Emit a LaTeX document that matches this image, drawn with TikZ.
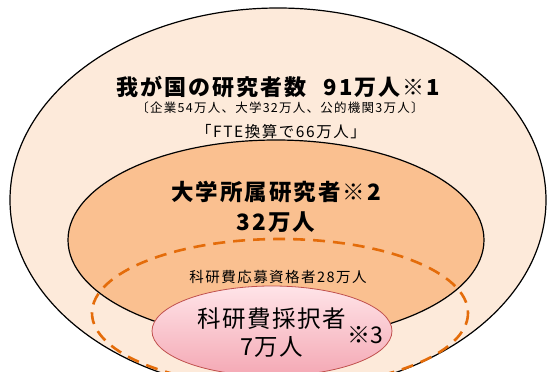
\documentclass[tikz,border=0pt]{standalone}
\usepackage{fontspec}
\newfontfamily\jp{Noto Sans CJK JP}
\usetikzlibrary{shapes.geometric}
\definecolor{outerfill}{HTML}{FDEADA}
\definecolor{midfill}{HTML}{FAC090}
\definecolor{dashor}{HTML}{E46C0A}
\definecolor{pinktop}{HTML}{FFE4E8}
\definecolor{pinkbot}{HTML}{F4A8B4}
\definecolor{pinkedge}{HTML}{C0504D}
\tikzset{
  lbl/.style={inner sep=0pt, align=center, text=black, font=\jp},
}
\begin{document}
\begin{tikzpicture}[x=1pt,y=-1pt]
\useasboundingbox (0,0) rectangle (547,372);
\clip (0,0) rectangle (547,372);
\fill[white] (0,0) rectangle (547,372);
% outer
\draw[fill=outerfill, line width=1.2pt] (278,200) ellipse [x radius=268, y radius=192];
% middle
\draw[fill=midfill, line width=1.2pt] (276,240) ellipse [x radius=208, y radius=100];
% dashed
\draw[dashor, line width=2.6pt, dash pattern=on 12pt off 8pt] (280,313) ellipse [x radius=188, y radius=74];
% pink
\shade[top color=pinktop, bottom color=pinkbot] (272,331) ellipse [x radius=120, y radius=45];
\draw[pinkedge, line width=0.8pt] (272,331) ellipse [x radius=120, y radius=45];
% texts
\node[lbl, font=\jp\bfseries\addfontfeature{LetterSpace=9}\fontsize{22}{23}\selectfont] (t1) at (278,87) {我が国の研究者数\hspace{0.8em}91万人※1};
\node[lbl, font=\jp\addfontfeature{LetterSpace=10}\fontsize{12.5}{13}\selectfont] (t2) at (280,108) {〔企業54万人、大学32万人、公的機関3万人〕};
\node[lbl, font=\jp\addfontfeature{LetterSpace=10}\fontsize{15.5}{16}\selectfont] (t3) at (281,132) {「FTE換算で66万人」};
\node[lbl, font=\jp\bfseries\addfontfeature{LetterSpace=9}\fontsize{22.5}{30}\selectfont] (t4) at (276,207) {大学所属研究者※2\\32万人};
\node[lbl, font=\jp\addfontfeature{LetterSpace=10}\fontsize{14.5}{15}\selectfont] (t5) at (278,277) {科研費応募資格者28万人};
\node[lbl, font=\jp\addfontfeature{LetterSpace=6}\fontsize{23.5}{28}\selectfont] (t6) at (272,333) {科研費採択者\\7万人};
\node[lbl, font=\jp\fontsize{23}{24}\selectfont] (t7) at (365,335) {※3};
\end{tikzpicture}
\end{document}
